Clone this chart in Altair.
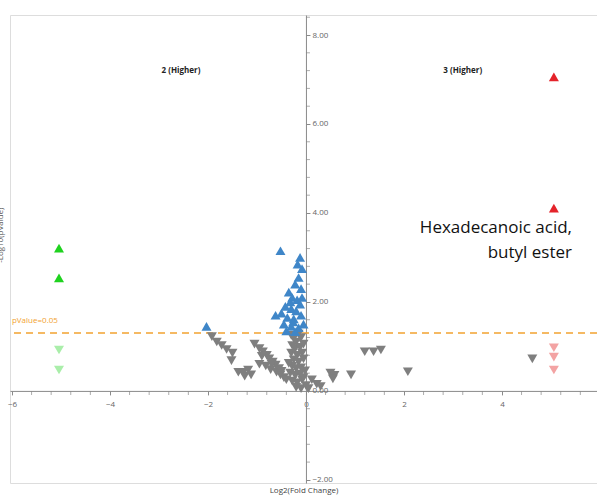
import altair as alt
import pandas as pd

# ---- data ----
gray_x = [-1.92, -1.82, -1.72, -1.62, -1.50, -1.52, -1.38, -1.28, -1.18, -1.12, -1.25,
          -1.05, -0.95, -0.88, -0.80, -0.75, -0.68, -0.62, -0.82, -0.72, -0.60, -0.52, -0.45, -0.40, -0.55, -0.95,
          -0.30, -0.25, -0.20, -0.15, -0.10, -0.28, -0.22, -0.12, -0.30, -0.18, -0.08, -0.25, -0.15, -0.05,
          -0.28, -0.20, -0.10, -0.32, -0.22, -0.12, -0.02, -0.28, -0.18, -0.08, -0.20, -0.10, 0.00, -0.05, 0.05,
          0.12, 0.22, 0.30, 0.50, 0.58, 0.55, 0.92, 1.20, 1.38, 1.53, 2.08, 4.62,
          -0.90, -0.70, -0.50, -0.35, -0.05]
gray_y = [1.22, 1.10, 1.02, 0.93, 0.85, 0.68, 0.42, 0.42, 0.47, 0.36, 0.33,
          1.05, 0.95, 0.88, 0.80, 0.72, 0.65, 0.58, 0.56, 0.48, 0.42, 0.36, 0.30, 0.25, 0.50, 0.60,
          1.25, 1.18, 1.10, 1.28, 1.20, 1.02, 0.95, 0.98, 0.85, 0.80, 0.85, 0.70, 0.65, 0.72,
          0.55, 0.50, 0.52, 0.40, 0.35, 0.38, 0.45, 0.22, 0.18, 0.25, 0.08, 0.05, 0.12, 0.30, 0.05,
          0.25, 0.15, 0.10, 0.40, 0.35, 0.27, 0.36, 0.88, 0.88, 0.92, 0.43, 0.72,
          0.78, 0.60, 0.44, 0.62, 1.05]

blue_x = [-2.03, -0.52, -0.12, -0.17, -0.08, -0.15, -0.22, -0.10, -0.35, -0.28, -0.18, -0.42, -0.30,
          -0.12, -0.50, -0.62, -0.38, -0.25, -0.10, -0.45, -0.30, -0.15, -0.05, -0.40, -0.22,
          -0.32, -0.20, -0.08, -0.26]
blue_y = [1.45, 3.15, 3.00, 2.85, 2.75, 2.55, 2.40, 2.30, 2.22, 2.10, 2.05, 1.90, 1.85,
          1.95, 1.75, 1.70, 1.65, 1.62, 1.70, 1.50, 1.45, 1.42, 1.50, 1.35, 1.33,
          2.00, 1.80, 2.10, 1.55]

green_x = [-5.04, -5.04]
green_y = [3.21, 2.54]
lightgreen_x = [-5.04, -5.04]
lightgreen_y = [0.92, 0.47]
red_x = [5.06, 5.06]
red_y = [7.06, 4.11]
pink_x = [5.06, 5.06, 5.06]
pink_y = [0.97, 0.76, 0.47]

p_threshold = 1.30
x_major = [-6, -4, -2, 0, 2, 4]
y_major = [-2, 0, 2, 4, 6, 8]
x_minor = [-5.6, -5.2, -4.8, -4.4, -3.6, -3.2, -2.8, -2.4, -1.6, -1.2, -0.8, -0.4,
           0.4, 0.8, 1.2, 1.6, 2.4, 2.8, 3.2, 3.6, 4.4, 4.8, 5.2, 5.6]
y_minor = [-1.6, -1.2, -0.8, -0.4, 0.4, 0.8, 1.2, 1.6, 2.4, 2.8, 3.2, 3.6,
           4.4, 4.8, 5.2, 5.6, 6.4, 6.8, 7.2, 7.6, 8.4]

XDOM = [-6.04, 5.94]
YDOM = [-2.07, 8.45]
W, H = 587, 468
x0_px = (0 - XDOM[0]) / (XDOM[1] - XDOM[0]) * W
y0_px = (YDOM[1] - 0) / (YDOM[1] - YDOM[0]) * H

def df(xs, ys, grp):
    return pd.DataFrame({"x": xs, "y": ys, "g": grp})

up = pd.concat([df(blue_x, blue_y, "blue"), df(green_x, green_y, "green"), df(red_x, red_y, "red")])
down = pd.concat([df(gray_x, gray_y, "gray"), df(lightgreen_x, lightgreen_y, "lightgreen"),
                  df(pink_x, pink_y, "pink")])

color_scale = alt.Scale(domain=["gray", "blue", "green", "lightgreen", "red", "pink"],
                        range=["#7f7f7f", "#3f86c8", "#1fd21f", "#aaeeaa", "#e4232a", "#f3a3a3"])

xs = alt.Scale(domain=XDOM, nice=False, zero=False)
ys = alt.Scale(domain=YDOM, nice=False, zero=False)

AX = "#8a8a8a"
x_axis = alt.Axis(orient="bottom", offset=-(H - y0_px), values=x_major, format="d",
                  grid=False, domainColor=AX, tickColor=AX, tickSize=4,
                  labelColor="#666666", labelFontSize=8, labelFont="Open Sans",
                  labelFlush=False, labelOverlap=False, labelBound=False, labelPadding=6,
                  title="Log2(Fold Change)", titleFontSize=8, titleFont="Open Sans",
                  titleColor="#444444", titleFontWeight="normal",
                  titleBaseline="top", titleY=H - y0_px + 3)
y_axis = alt.Axis(orient="right", offset=-(W - x0_px), values=y_major, format=".2f",
                  grid=False, domainColor=AX, tickColor=AX, tickSize=4,
                  labelColor="#666666", labelFontSize=8, labelFont="Open Sans",
                  labelFlush=False, labelOverlap=False, labelBound=False, labelPadding=2,
                  title=None)

def X():
    return alt.X("x:Q", scale=xs, axis=x_axis)

def Y():
    return alt.Y("y:Q", scale=ys, axis=y_axis)

threshold = alt.Chart(pd.DataFrame({"y": [p_threshold]})).mark_rule(
    color="#f2a230", strokeWidth=1.5, strokeDash=[7, 5]).encode(y=Y())

xminor = alt.Chart(pd.DataFrame({"x": x_minor, "y": [0.0] * len(x_minor)})).mark_tick(
    orient="vertical", size=4, thickness=1, color=AX, yOffset=2).encode(x=X(), y=Y())
yminor = alt.Chart(pd.DataFrame({"y": y_minor, "x": [0.0] * len(y_minor)})).mark_tick(
    orient="horizontal", size=4, thickness=1, color=AX, xOffset=2).encode(x=X(), y=Y())

up_pts = alt.Chart(up).mark_point(shape="triangle-up", filled=True, opacity=1, size=100).encode(
    x=X(), y=Y(), color=alt.Color("g:N", scale=color_scale, legend=None))
down_pts = alt.Chart(down).mark_point(shape="triangle-down", filled=True, opacity=1, size=100).encode(
    x=X(), y=Y(), color=alt.Color("g:N", scale=color_scale, legend=None))

group_labels = alt.Chart(pd.DataFrame({"x": [-2.55, 3.2], "y": [7.2, 7.2],
                                       "t": ["2 (Higher)", "3 (Higher)"]})).mark_text(
    fontSize=8, font="Open Sans", fontWeight="bold", color="#222222").encode(
    x=X(), y=Y(), text="t:N")

pv_label = alt.Chart(pd.DataFrame({"x": [-6.0], "y": [1.57], "t": ["pValue=0.05"]})).mark_text(
    fontSize=8, font="Open Sans", color="#f2a230", align="left").encode(
    x=X(), y=Y(), text="t:N")

annot = alt.Chart(pd.DataFrame({"x": [5.43, 5.43], "y": [3.66, 3.10],
                                "t": ["Hexadecanoic acid,", "butyl ester"]})).mark_text(
    fontSize=17, font="Open Sans", color="#111111", align="right").encode(
    x=X(), y=Y(), text="t:N")

ylab = alt.Chart(pd.DataFrame({"x": [-6.22], "y": [3.5], "t": ["-Log10(pValue)"]})).mark_text(
    fontSize=8, font="Open Sans", color="#555555", angle=270, clip=False).encode(
    x=X(), y=Y(), text="t:N")

chart = alt.layer(threshold, xminor, yminor, down_pts, up_pts, group_labels, pv_label, annot,
                  ylab).properties(
    width=W, height=H,
    padding={"left": 10, "top": 15, "right": 0, "bottom": 16},
    autosize=alt.AutoSizeParams(type="none"),
).configure_view(stroke="#a8a8a8", strokeWidth=2).configure(background="white")

chart.save("out.html", embed_options={"renderer": "svg", "actions": False})
